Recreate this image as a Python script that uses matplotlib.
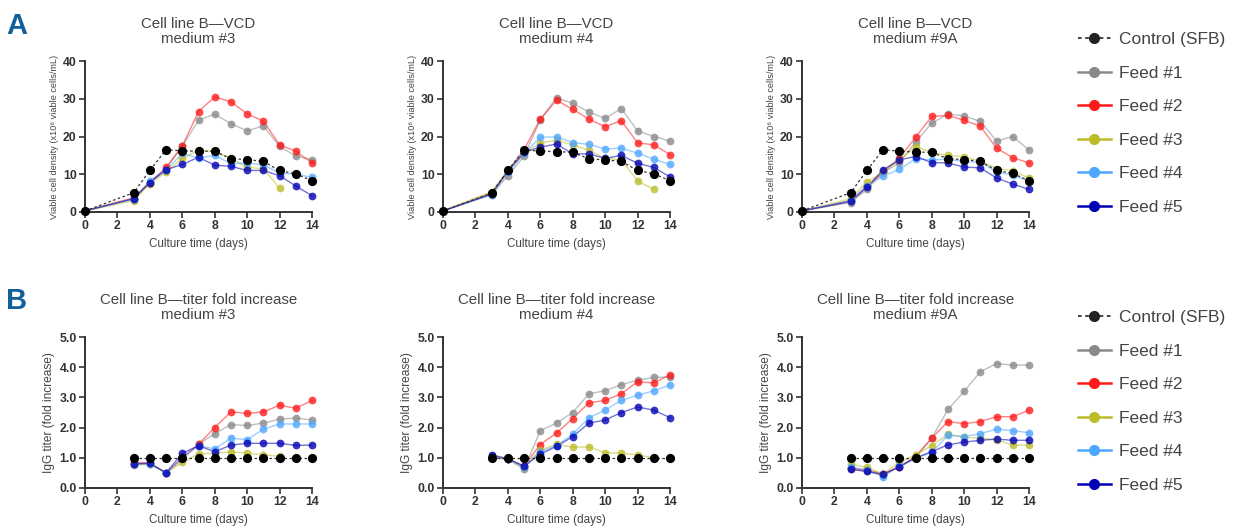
import matplotlib.pyplot as plt
from matplotlib.lines import Line2D
from matplotlib.ticker import FormatStrFormatter

# ---- data ----
days_vcd = [0, 3, 4, 5, 6, 7, 8, 9, 10, 11, 12, 13, 14]
days_titer = [3, 4, 5, 6, 7, 8, 9, 10, 11, 12, 13, 14]

series = ['Control (SFB)', 'Feed #1', 'Feed #2', 'Feed #3', 'Feed #4', 'Feed #5']
colors = ['#222222', '#8a8a8a', '#ff1a1a', '#bcbc2a', '#4da6ff', '#0000b4']
media = ['medium #3', 'medium #4', 'medium #9A']

# viable cell density, medium #3
vcd_m3 = [
    [0.3, 5.1, 11.0, 16.5, 16.2, 16.1, 16.1, 14.1, 13.9, 13.4, 11.0, 10.1, 8.3],
    [0.3, 3.5, 7.8, 11.5, 17.4, 24.3, 25.9, 23.4, 21.5, 22.8, 17.4, 14.8, 13.9],
    [0.3, 3.8, 7.8, 11.8, 17.5, 26.6, 30.5, 29.2, 26.0, 24.1, 17.8, 16.1, 13.0],
    [0.3, 3.0, 7.5, 10.5, 14.2, 16.4, 16.0, 14.2, 11.8, 11.5, 6.3],
    [0.3, 3.5, 8.3, 11.0, 15.5, 14.3, 15.0, 12.8, 13.0, 12.5, 10.3, 10.0, 9.2],
    [0.3, 3.5, 7.8, 11.2, 12.6, 14.5, 12.4, 12.1, 11.0, 11.0, 9.6, 6.9, 4.3],
]
# viable cell density, medium #4
vcd_m4 = [
    [0.3, 5.0, 11.0, 16.5, 16.1, 16.0, 15.8, 14.1, 13.8, 13.4, 11.0, 10.1, 8.3],
    [0.3, 4.6, 9.6, 14.8, 24.4, 30.3, 28.8, 26.5, 24.8, 27.4, 21.5, 20.0, 18.8],
    [0.3, 5.0, 11.0, 16.5, 24.6, 29.6, 27.2, 24.6, 22.6, 24.2, 18.3, 17.8, 15.2],
    [0.3, 5.4, 11.0, 15.5, 18.3, 19.0, 17.8, 16.4, 14.2, 13.8, 8.2, 6.0],
    [0.3, 4.6, 10.5, 15.5, 19.8, 19.9, 18.4, 17.9, 16.7, 16.9, 15.6, 14.0, 12.6],
    [0.3, 4.8, 10.8, 15.8, 17.2, 18.0, 15.4, 15.4, 14.2, 15.0, 12.9, 11.8, 9.3],
]
# viable cell density, medium #9A
vcd_m9a = [
    [0.3, 5.1, 11.0, 16.5, 16.1, 15.9, 15.8, 14.1, 13.9, 13.4, 11.0, 10.2, 8.3],
    [0.3, 2.5, 6.0, 10.5, 13.0, 18.5, 23.5, 26.0, 25.4, 24.0, 18.8, 20.0, 16.4],
    [0.3, 3.0, 6.8, 10.5, 14.2, 19.8, 25.3, 25.6, 24.3, 22.7, 16.9, 14.4, 13.0],
    [0.3, 3.5, 8.0, 10.5, 13.8, 17.3, 15.8, 15.0, 14.6, 13.5, 11.5, 10.9, 9.0],
    [0.3, 3.0, 7.0, 9.5, 11.3, 14.1, 13.8, 14.0, 13.3, 13.2, 10.6, 9.8, 8.2],
    [0.3, 2.8, 6.5, 11.2, 13.8, 14.7, 13.1, 13.0, 11.9, 11.7, 9.0, 7.4, 6.0],
]

# IgG titer fold increase, medium #3
titer_m3 = [
    [1.0] * 12,
    [0.75, 0.8, 0.5, 0.95, 1.45, 1.8, 2.1, 2.07, 2.15, 2.28, 2.32, 2.25],
    [0.85, 0.82, 0.5, 1.0, 1.45, 2.0, 2.52, 2.47, 2.52, 2.74, 2.64, 2.9],
    [0.8, 0.8, 0.5, 0.85, 1.13, 1.15, 1.2, 1.15, 1.1, 1.05],
    [0.8, 0.8, 0.5, 1.0, 1.4, 1.3, 1.65, 1.6, 1.95, 2.12, 2.12, 2.12],
    [0.8, 0.82, 0.5, 1.15, 1.4, 1.2, 1.42, 1.48, 1.48, 1.48, 1.41, 1.42],
]
# IgG titer fold increase, medium #4
titer_m4 = [
    [1.0] * 12,
    [1.0, 0.95, 0.62, 1.9, 2.15, 2.5, 3.12, 3.22, 3.42, 3.57, 3.66, 3.68],
    [1.05, 0.97, 0.72, 1.44, 1.82, 2.3, 2.82, 2.9, 3.12, 3.52, 3.48, 3.75],
    [1.05, 0.95, 0.7, 1.25, 1.45, 1.35, 1.36, 1.17, 1.15, 1.1, 1.0],
    [1.05, 0.95, 0.7, 1.2, 1.4, 1.78, 2.33, 2.58, 2.9, 3.07, 3.22, 3.41],
    [1.1, 0.97, 0.72, 1.12, 1.38, 1.7, 2.15, 2.25, 2.5, 2.68, 2.58, 2.33],
]
# IgG titer fold increase, medium #9A
titer_m9a = [
    [1.0] * 12,
    [0.62, 0.55, 0.42, 0.7, 1.0, 1.65, 2.6, 3.2, 3.85, 4.12, 4.07, 4.07],
    [0.65, 0.6, 0.47, 0.7, 1.05, 1.65, 2.2, 2.13, 2.2, 2.36, 2.36, 2.58],
    [0.8, 0.68, 0.47, 0.85, 1.1, 1.4, 1.78, 1.68, 1.65, 1.6, 1.42, 1.42],
    [0.7, 0.6, 0.38, 0.72, 0.98, 1.18, 1.75, 1.7, 1.8, 1.95, 1.9, 1.83],
    [0.62, 0.55, 0.45, 0.7, 1.0, 1.2, 1.43, 1.52, 1.58, 1.62, 1.58, 1.58],
]

vcd_all = [vcd_m3, vcd_m4, vcd_m9a]
titer_all = [titer_m3, titer_m4, titer_m9a]

plt.rcParams['font.family'] = ['Liberation Sans', 'DejaVu Sans']
W, H = 1236, 529
fig = plt.figure(figsize=(W / 100, H / 100), dpi=100)

lefts = [85, 443, 802]
text_col = '#444444'


def style_axes(ax, ylim, yticks, fmt, ylabel, ylsize):
    ax.set_xlim(0, 14)
    ax.set_ylim(*ylim)
    ax.set_xticks(range(0, 15, 2))
    ax.set_yticks(yticks)
    ax.yaxis.set_major_formatter(FormatStrFormatter(fmt))
    for s in ['top', 'right']:
        ax.spines[s].set_visible(False)
    for s in ['left', 'bottom']:
        ax.spines[s].set_linewidth(1.4)
        ax.spines[s].set_color('#333333')
    ax.tick_params(length=4, width=1.2, color='#333333', labelsize=8.8,
                   labelcolor='#333333', pad=2)
    for lab in ax.get_xticklabels() + ax.get_yticklabels():
        lab.set_fontweight('bold')
    ax.set_xlabel('Culture time (days)', fontsize=8.4, color=text_col, labelpad=4)
    ax.set_ylabel(ylabel, fontsize=ylsize, color=text_col, labelpad=3)


def draw_series(ax, xs, data):
    order = [1, 2, 3, 4, 5, 0]
    for i in order:
        y = data[i]
        x = xs[:len(y)]
        if i == 0:
            ax.plot(x, y, color='#333333', lw=0.9, ls=(0, (2, 2)), zorder=3,
                    clip_on=False)
            ax.plot(x, y, ls='none', marker='o', ms=5.6, color='#000000',
                    zorder=4, clip_on=False)
        else:
            ax.plot(x, y, color=colors[i], lw=1.0, alpha=0.55, zorder=2,
                    clip_on=False)
            ax.plot(x, y, ls='none', marker='o', ms=5.6, color=colors[i],
                    alpha=0.8, mec='none', zorder=2.5, clip_on=False)


for j in range(3):
    # row A
    ax = fig.add_axes([lefts[j] / W, 1 - 212 / H, 227 / W, 151 / H])
    draw_series(ax, days_vcd, vcd_all[j])
    style_axes(ax, (0, 40), [0, 10, 20, 30, 40], '%d',
               'Viable cell density (x10⁶ viable cells/mL)', 6.6)
    ax.set_title('Cell line B\u2014VCD\n' + media[j], fontsize=10.8,
                 color=text_col, pad=13, linespacing=1.12)
    # row B
    ax = fig.add_axes([lefts[j] / W, 1 - 488 / H, 227 / W, 151 / H])
    draw_series(ax, days_titer, titer_all[j])
    style_axes(ax, (0, 5), [0, 1, 2, 3, 4, 5], '%.1f',
               'IgG titer (fold increase)', 8.6)
    ax.set_title('Cell line B\u2014titer fold increase\n' + media[j],
                 fontsize=10.8, color=text_col, pad=13, linespacing=1.12)

fig.text(6 / W, 1 - 34 / H, 'A', fontsize=21, fontweight='bold', color='#11609a')
fig.text(6 / W, 1 - 309 / H, 'B', fontsize=21, fontweight='bold', color='#11609a')

handles = []
for i, name in enumerate(series):
    if i == 0:
        h = Line2D([], [], color='#333333', ls=(0, (2, 2)), lw=1.3, marker='o',
                   ms=7, mfc='#222222', mec='#222222')
    else:
        h = Line2D([], [], color=colors[i], lw=1.8, marker='o', ms=7)
    handles.append(h)

for top in [32, 310]:
    leg = fig.legend(handles, series, loc='upper left',
                     bbox_to_anchor=(1078 / W, 1 - top / H), frameon=False,
                     fontsize=12.5, handlelength=1.9, handletextpad=0.45,
                     labelspacing=1.06, borderpad=0, borderaxespad=0)
    for t in leg.get_texts():
        t.set_color(text_col)

fig.savefig('out.png', dpi=100)
